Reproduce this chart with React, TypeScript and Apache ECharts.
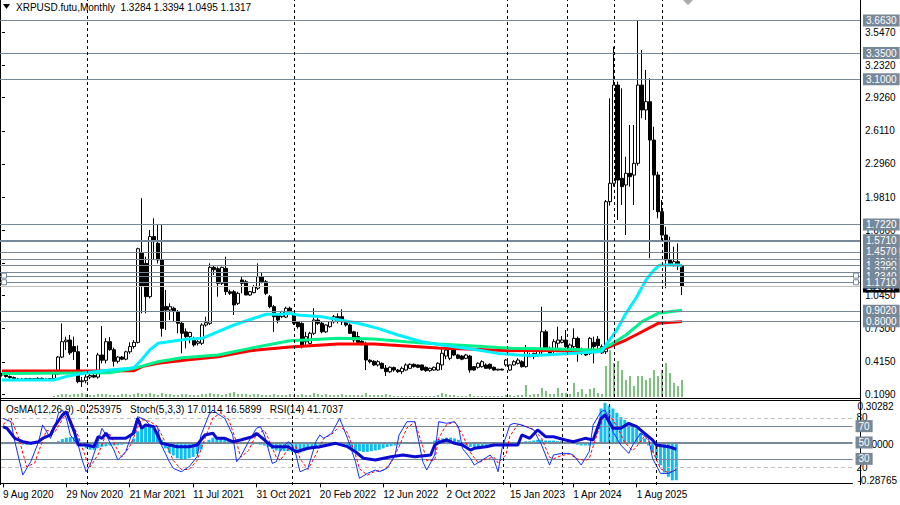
import React, { useEffect, useRef } from "react";
import * as echarts from "echarts";

const FONT = "'Liberation Sans', Arial, sans-serif";
const SYMBOL = "XRPUSD.futu";
const TIMEFRAME = "Monthly";

// slots on the time axis (bars + empty right shift)
const N_SLOTS = 215;
const X_TICK_LABELS = [
  "9 Aug 2020", "29 Nov 2020", "21 Mar 2021", "11 Jul 2021", "31 Oct 2021", "20 Feb 2022",
  "12 Jun 2022", "2 Oct 2022", "15 Jan 2023", "1 Apr 2024", "1 Aug 2025",
];
const LABEL_EVERY = 16;
// period separators (year boundaries), in bar index units
const SEPARATOR_BARS = [21.25, 73, 126.25, 141.25, 153, 165];

const OPEN = [
  0.290, 0.295, 0.275, 0.265, 0.250, 0.245, 0.250, 0.255, 0.248, 0.255,
  0.258, 0.245, 0.250, 0.255, 0.300, 0.460, 0.606, 0.622, 0.560, 0.511,
  0.226, 0.235, 0.270, 0.285, 0.270, 0.480, 0.430, 0.606, 0.530, 0.420,
  0.460, 0.440, 0.510, 0.560, 0.600, 1.450, 1.350, 1.034, 1.605, 1.541,
  1.383, 0.940, 0.907, 0.924, 0.892, 0.781, 0.700, 0.654, 0.622, 0.591,
  0.591, 0.765, 0.781, 1.313, 1.300, 1.161, 1.304, 1.080, 1.082, 0.971,
  1.193, 1.177, 1.050, 1.072, 1.114, 1.224, 1.177, 1.034, 0.939, 0.860,
  0.844, 0.840, 0.924, 0.860, 0.796, 0.780, 0.606, 0.590, 0.686, 0.812,
  0.781, 0.700, 0.749, 0.796, 0.844, 0.844, 0.800, 0.765, 0.700, 0.654,
  0.610, 0.575, 0.430, 0.420, 0.385, 0.400, 0.355, 0.320, 0.360, 0.337,
  0.321, 0.337, 0.353, 0.391, 0.385, 0.385, 0.363, 0.331, 0.337, 0.337,
  0.385, 0.470, 0.448, 0.527, 0.480, 0.470, 0.448, 0.470, 0.369, 0.363,
  0.369, 0.385, 0.391, 0.363, 0.337, 0.345, 0.385, 0.337, 0.385, 0.400,
  0.416, 0.369, 0.480, 0.464, 0.480, 0.511, 0.701, 0.543, 0.520, 0.591,
  0.600, 0.622, 0.543, 0.559, 0.638, 0.527, 0.496, 0.496, 0.600, 0.630,
  0.560, 0.511, 1.937, 2.112, 3.046, 2.159, 2.096, 2.207, 2.190, 2.302,
  3.046, 2.809, 2.888, 2.523, 2.191, 1.842, 1.620, 1.383, 1.335, 1.367,
  1.3284,
];
const HIGH = [
  0.310, 0.305, 0.285, 0.275, 0.262, 0.258, 0.262, 0.262, 0.260, 0.268,
  0.265, 0.255, 0.262, 0.310, 0.470, 0.780, 0.654, 0.670, 0.654, 0.570,
  0.270, 0.321, 0.300, 0.300, 0.500, 0.755, 0.640, 0.650, 0.550, 0.470,
  0.470, 0.520, 0.600, 0.620, 1.500, 1.970, 1.414, 1.668, 1.779, 1.716,
  1.716, 1.098, 0.971, 0.939, 0.907, 0.796, 0.733, 0.701, 0.654, 0.620,
  0.781, 0.844, 1.351, 1.335, 1.319, 1.320, 1.414, 1.100, 1.098, 1.082,
  1.224, 1.193, 1.090, 1.145, 1.351, 1.260, 1.193, 1.050, 0.955, 0.876,
  0.900, 0.939, 0.940, 0.876, 0.800, 0.790, 0.700, 0.700, 0.924, 0.844,
  0.800, 0.770, 0.800, 0.860, 0.876, 0.914, 0.810, 0.780, 0.710, 0.700,
  0.630, 0.606, 0.440, 0.430, 0.430, 0.410, 0.385, 0.370, 0.370, 0.345,
  0.369, 0.400, 0.400, 0.400, 0.390, 0.390, 0.370, 0.360, 0.370, 0.410,
  0.543, 0.560, 0.575, 0.540, 0.490, 0.480, 0.490, 0.480, 0.375, 0.410,
  0.430, 0.400, 0.400, 0.370, 0.345, 0.350, 0.440, 0.390, 0.430, 0.450,
  0.430, 0.575, 0.500, 0.500, 0.530, 0.939, 0.720, 0.560, 0.630, 0.749,
  0.660, 0.717, 0.590, 0.733, 0.654, 0.550, 0.520, 0.650, 0.654, 0.660,
  0.580, 1.953, 2.920, 3.410, 3.078, 3.015, 2.365, 2.666, 2.666, 3.664,
  3.379, 3.189, 3.110, 2.650, 2.222, 1.953, 1.699, 1.604, 1.509, 1.541,
  1.3394,
];
const LOW = [
  0.275, 0.265, 0.255, 0.240, 0.238, 0.235, 0.240, 0.243, 0.240, 0.248,
  0.238, 0.235, 0.242, 0.250, 0.290, 0.450, 0.527, 0.480, 0.432, 0.211,
  0.175, 0.211, 0.250, 0.260, 0.255, 0.400, 0.400, 0.520, 0.370, 0.400,
  0.430, 0.430, 0.490, 0.540, 0.590, 0.876, 0.876, 1.018, 1.383, 1.351,
  0.654, 0.717, 0.812, 0.796, 0.686, 0.496, 0.543, 0.591, 0.559, 0.570,
  0.575, 0.749, 0.765, 1.240, 1.034, 1.145, 1.050, 1.050, 0.860, 0.955,
  1.066, 1.050, 1.040, 1.066, 1.098, 1.160, 1.050, 0.924, 0.700, 0.780,
  0.830, 0.830, 0.880, 0.765, 0.730, 0.543, 0.575, 0.580, 0.670, 0.765,
  0.686, 0.690, 0.740, 0.780, 0.780, 0.765, 0.750, 0.680, 0.600, 0.580,
  0.570, 0.337, 0.400, 0.375, 0.370, 0.345, 0.280, 0.310, 0.320, 0.310,
  0.299, 0.330, 0.350, 0.360, 0.355, 0.330, 0.320, 0.320, 0.330, 0.330,
  0.337, 0.440, 0.430, 0.470, 0.440, 0.430, 0.440, 0.311, 0.330, 0.350,
  0.360, 0.350, 0.340, 0.330, 0.330, 0.335, 0.370, 0.330, 0.380, 0.390,
  0.360, 0.360, 0.460, 0.440, 0.460, 0.480, 0.530, 0.480, 0.500, 0.543,
  0.590, 0.527, 0.530, 0.527, 0.416, 0.480, 0.470, 0.480, 0.400, 0.540,
  0.490, 0.490, 1.900, 2.080, 1.763, 1.906, 1.620, 2.080, 1.906, 2.280,
  2.730, 2.714, 1.400, 1.858, 1.779, 1.573, 1.114, 1.335, 1.319, 1.288,
  1.0495,
];
const CLOSE = [
  0.295, 0.275, 0.265, 0.250, 0.245, 0.250, 0.255, 0.248, 0.255, 0.258,
  0.245, 0.250, 0.255, 0.300, 0.460, 0.606, 0.622, 0.500, 0.511, 0.226,
  0.235, 0.270, 0.285, 0.270, 0.480, 0.430, 0.606, 0.530, 0.420, 0.460,
  0.440, 0.510, 0.560, 0.600, 1.490, 1.130, 1.034, 1.605, 1.557, 1.383,
  0.733, 0.907, 0.939, 0.892, 0.781, 0.686, 0.654, 0.694, 0.575, 0.606,
  0.765, 0.787, 1.313, 1.290, 1.161, 1.313, 1.082, 1.066, 0.955, 1.066,
  1.161, 1.050, 1.082, 1.129, 1.224, 1.177, 1.066, 0.939, 0.844, 0.812,
  0.892, 0.924, 0.892, 0.781, 0.749, 0.559, 0.654, 0.686, 0.812, 0.781,
  0.700, 0.765, 0.796, 0.844, 0.820, 0.796, 0.765, 0.686, 0.622, 0.600,
  0.585, 0.432, 0.416, 0.385, 0.416, 0.353, 0.321, 0.363, 0.337, 0.321,
  0.353, 0.385, 0.391, 0.369, 0.363, 0.337, 0.331, 0.353, 0.363, 0.401,
  0.496, 0.527, 0.543, 0.480, 0.448, 0.440, 0.480, 0.337, 0.337, 0.401,
  0.416, 0.353, 0.353, 0.337, 0.345, 0.337, 0.432, 0.385, 0.416, 0.432,
  0.369, 0.543, 0.464, 0.496, 0.527, 0.701, 0.543, 0.500, 0.606, 0.622,
  0.622, 0.559, 0.575, 0.638, 0.543, 0.500, 0.480, 0.638, 0.559, 0.570,
  0.500, 1.937, 2.112, 3.046, 2.143, 2.080, 2.207, 2.175, 2.302, 3.046,
  2.809, 2.888, 2.523, 2.191, 1.842, 1.620, 1.383, 1.351, 1.367, 1.3284,
  1.1317,
];
// relative tick volume
const VOLUME = [
  0, 0, 0, 0, 0, 0, 0, 0, 0, 0,
  0, 0, 0, 1, 2, 3, 3, 2, 3, 3,
  4, 3, 2, 2, 3, 3, 3, 2, 2, 2,
  3, 3, 2, 3, 4, 3, 3, 4, 3, 2,
  4, 3, 3, 2, 2, 3, 3, 2, 2, 2,
  3, 3, 4, 3, 3, 2, 3, 4, 5, 3,
  3, 3, 2, 3, 3, 2, 2, 2, 3, 2,
  2, 2, 3, 2, 2, 3, 2, 2, 4, 3,
  2, 3, 2, 2, 2, 3, 2, 2, 2, 2,
  2, 4, 2, 2, 2, 2, 3, 2, 1, 1,
  1, 1, 1, 1, 1, 1, 1, 1, 1, 2,
  4, 3, 2, 2, 1, 1, 1, 3, 1, 1,
  1, 1, 1, 1, 1, 1, 2, 2, 1, 2,
  2, 12, 2, 3, 3, 9, 6, 3, 3, 9,
  4, 4, 3, 14, 5, 8, 3, 8, 9, 4,
  3, 31, 47, 34, 36, 27, 17, 21, 11, 21,
  21, 17, 19, 27, 21, 27, 34, 24, 14, 11,
  17,
];

// moving averages, read at sample bars: [bar, value]
const MA_CYAN = [
  [0, 0.242], [13, 0.242], [16, 0.274], [21, 0.311], [27, 0.337], [32, 0.353], [33, 0.36],
  [35, 0.44], [37, 0.53], [39, 0.591], [43, 0.613], [46, 0.629], [50, 0.638], [53, 0.686],
  [58, 0.765], [63, 0.829], [66, 0.867], [70, 0.867], [72, 0.876], [74, 0.86], [80, 0.844],
  [89, 0.781], [94, 0.733], [99, 0.67], [105, 0.606], [110, 0.575], [114, 0.553],
  [119, 0.527], [124, 0.495], [129, 0.48], [133, 0.475], [140, 0.49], [147, 0.505],
  [150, 0.515], [151, 0.575], [153.7, 0.717], [156, 0.876], [158.7, 1.034], [161, 1.193],
  [163, 1.288], [164.5, 1.335], [169.5, 1.335], [170, 1.319],
];
const MA_GREEN = [
  [0, 0.305], [27, 0.311], [33, 0.353], [39, 0.416], [45, 0.454], [54, 0.48], [62, 0.543],
  [72, 0.616], [84, 0.638], [93, 0.632], [101, 0.606], [109, 0.584], [118, 0.565],
  [127, 0.543], [135, 0.54], [149, 0.527], [152, 0.575], [156, 0.67], [160, 0.797],
  [164, 0.876], [170, 0.905],
];
const MA_RED = [
  [0, 0.328], [33, 0.33], [35, 0.369], [39, 0.401], [46, 0.432], [54, 0.464], [62, 0.521],
  [72, 0.555], [84, 0.584], [93, 0.584], [101, 0.565], [109, 0.546], [118, 0.534],
  [127, 0.521], [135, 0.524], [149, 0.511], [152, 0.559], [156, 0.622], [160, 0.701],
  [164, 0.781], [170, 0.797],
];

const PRICE_MIN = 0.0805;
const PRICE_MAX = 3.8543;
const PRICE_TICKS = [0.109, 0.415, 0.73, 1.045, 1.351, 1.666, 1.981, 2.296, 2.611, 2.926, 3.232, 3.547];
// horizontal line objects, in drawing order
const PRICE_LEVELS = [1.387, 1.329, 1.275, 1.234, 1.556, 1.571, 1.457, 1.171, 1.722, 3.663, 3.35, 3.1, 0.902, 0.8];
const SELECTED_LEVELS = [1.234, 1.171];

// indicator window
const OSMA = [
  0.012, 0.012, 0.010, 0.006, 0.002,
  -0.004, -0.006, -0.004, -0.002, 0, 0.002, 0.002, 0.004,
  0.010, 0.020, 0.035, 0.045, 0.050, 0.050, 0.040,
  -0.010, -0.030, -0.040, -0.040, -0.030,
  -0.020, -0.015, -0.010, -0.010, -0.008, -0.005, 0, 0.005,
  0.040, 0.090, 0.120, 0.120, 0.130, 0.120, 0.090, 0.030,
  -0.030, -0.060, -0.080, -0.100, -0.110, -0.110, -0.100, -0.090, -0.070, -0.040,
  0.010, 0.030, 0.045, 0.050, 0.050, 0.045, 0.030, 0.020,
  0.010, 0.010, 0.005, 0, -0.005, 0, -0.005, -0.010,
  -0.020, -0.035, -0.045, -0.050, -0.050, -0.050, -0.055, -0.060,
  -0.060, -0.050, -0.040, -0.030, -0.020, -0.010, -0.005, 0, 0.005, 0.005,
  0, -0.010, -0.020, -0.035, -0.045, -0.050, -0.055, -0.055, -0.050, -0.045, -0.040, -0.030, -0.020, -0.015, -0.010, -0.005,
  0, 0.005, 0.010, 0.015, 0.015, 0.010, 0.010, 0.015, 0.025, 0.035, 0.040, 0.045, 0.045, 0.040, 0.030, 0.010,
  -0.010, -0.020, -0.020, -0.020, -0.020, -0.020, -0.020, -0.015, -0.010, -0.005, 0, 0.005, 0.005, 0.005,
  0.015, 0.020, 0.020, 0.025, 0.030, 0.030, 0.025, 0.025, 0.025, 0.020, 0.020, 0.015, 0.015, 0.005, -0.005, -0.010, -0.010, -0.010, -0.005, 0,
  0.250, 0.290, 0.270, 0.250, 0.220, 0.190, 0.170, 0.150, 0.140, 0.110, 0.080, 0.040, -0.010, -0.060, -0.100, -0.150, -0.200, -0.230, -0.255, -0.254,
];
const OSMA_MIN = -0.28765;
const OSMA_MAX = 0.30282;

const STOCH_MAIN = [
  [0, 79.6], [2, 75.5], [3, 51], [5, 10.2], [7, 26.5], [9, 51], [10, 71.5], [12, 55], [13, 67.4],
  [14, 85.7], [15, 89.8], [16, 79.6], [17, 59.2], [19, 46.9], [20, 28.5], [21, 14.2], [22, 22.4],
  [24, 51], [25, 67.4], [26, 59.2], [28, 40.8], [29, 28.5], [31, 38.7], [33, 67.4], [34, 81.6],
  [36, 77.6], [37, 71.5], [39, 69.4], [40, 46.9], [42, 26.5], [43, 18.4], [45, 14.2], [47, 20.4],
  [49, 32.6], [50, 59.2], [52, 83.7], [53, 89.8], [54, 85.7], [56, 79.6], [58, 59.2], [59, 26.5],
  [60, 32.6], [62, 51], [64, 67.4], [65, 69.4], [66, 59.2], [68, 24.5], [69, 26.5], [70, 40],
  [72, 51], [73, 46.9], [74, 34.7], [75, 14.2], [77, 18.4], [79, 51], [80, 59.2], [81, 55.1],
  [83, 61.3], [85, 79.6], [86, 67.4], [87, 55.1], [89, 26.5], [90, 6.1], [92, 12.2], [94, 16.3],
  [95, 14.2], [97, 18.4], [99, 34.7], [100, 59.2], [102, 75.5], [104, 75.5], [105, 51], [106, 26.5],
  [107, 16.3], [109, 34.7], [110, 75.5], [112, 73.5], [114, 75.5], [115, 69.4], [116, 42.9],
  [118, 30.7], [119, 22.4], [121, 28.5], [123, 34.7], [124, 28.5], [125, 14.2], [126, 42.9],
  [128, 71.5], [129, 73.5], [131, 71.5], [133, 67.4], [134, 65.4], [136, 46.9], [138, 22.4],
  [139, 34.7], [141, 36.7], [143, 36.7], [144, 34.7], [146, 22.4], [148, 38.7], [149, 71.5],
  [151, 87.7], [152, 89.8], [153, 79.6], [154, 63.3], [156, 46.9], [158, 36.7], [159, 46.9],
  [161, 61.3], [163, 55.1], [164, 30.7], [166, 12.2], [168, 12.2], [169, 14.2], [170, 17.0],
];
const STOCH_SIGNAL = [
  [0, 72], [2, 80], [4, 55], [6, 20], [8, 25], [10, 52], [11, 65], [13, 62], [15, 78], [16, 86],
  [17, 78], [19, 58], [21, 30], [22, 20], [24, 35], [26, 60], [27, 60], [29, 40], [30, 32],
  [32, 45], [34, 68], [35, 78], [37, 76], [39, 70], [41, 50], [43, 28], [45, 17], [47, 17],
  [49, 28], [51, 55], [53, 80], [55, 86], [57, 78], [59, 50], [60, 32], [62, 40], [64, 60],
  [66, 65], [67, 55], [69, 32], [70, 28], [72, 42], [74, 45], [75, 30], [77, 17], [79, 35],
  [81, 55], [83, 60], [85, 70], [87, 62], [89, 35], [90, 18], [92, 10], [94, 15], [96, 16],
  [98, 25], [100, 45], [102, 68], [104, 75], [106, 45], [107, 28], [109, 28], [110, 55],
  [112, 72], [114, 75], [116, 60], [118, 38], [120, 25], [122, 30], [124, 32], [125, 25],
  [127, 35], [128, 58], [130, 72], [132, 70], [134, 66], [136, 55], [138, 32], [139, 30],
  [141, 34], [143, 36], [145, 30], [147, 28], [148, 30], [150, 60], [152, 85], [153, 85],
  [155, 70], [157, 50], [159, 40], [160, 45], [162, 58], [163, 52], [164, 40], [166, 18],
  [168, 13], [170, 16.6],
];
const RSI = [
  [0, 69.4], [1, 67.4], [3, 55.1], [5, 51], [7, 49], [9, 51], [10, 55.1], [12, 59.2], [13, 69.4],
  [15, 83.7], [16, 87.7], [17, 75.5], [18, 63.3], [19, 46.9], [21, 46.9], [23, 44.9], [24, 57.1],
  [25, 55.1], [26, 61.3], [27, 55.1], [31, 55.1], [33, 61.3], [34, 79.6], [35, 67.4], [36, 71.5],
  [38, 69.4], [39, 59.2], [40, 49], [42, 46.9], [44, 44.9], [47, 44.9], [49, 46.9], [51, 59.2],
  [53, 61.3], [54, 55.1], [56, 55.1], [58, 51], [60, 53.1], [63, 57.1], [64, 61.3], [66, 53.1],
  [68, 44.9], [70, 44.9], [72, 44.9], [74, 38.7], [77, 42.9], [80, 44.9], [82, 46.9], [84, 49],
  [87, 44.9], [89, 38.7], [91, 30.7], [94, 28.6], [98, 32.6], [101, 34.7], [104, 32.6],
  [108, 34.7], [109, 46.9], [110, 50], [112, 53.1], [114, 49], [116, 46.9], [118, 40.8],
  [119, 42.9], [122, 44.9], [124, 46.9], [130, 46.9], [131, 59.2], [133, 55.1], [135, 65.4],
  [137, 57.1], [139, 57.1], [142, 53.1], [144, 51], [147, 55.1], [149, 53.1], [151, 79.6],
  [152, 83.7], [154, 67.4], [156, 67.4], [158, 73.5], [160, 69.4], [162, 61.3], [164, 53.1],
  [165, 46.9], [168, 44.9], [170, 41.7],
];
const STOCH_MIN = -2;
const STOCH_MAX = 100.8;
const LEVELS_DASHED = [80, 20];
const LEVELS_SOLID = [70, 30];
const LEVEL_MID = 50;
const READOUT_OSMA = "-0.253975";
const READOUT_STOCH = ["17.0114", "16.5899"];
const READOUT_RSI = "41.7037";

const LEVEL_GRAY = "#778899";

function buildOption() {
  const last = CLOSE.length - 1;
  const categories = Array.from({ length: N_SLOTS }, (_, i) => String(i));
  const candleData = OPEN.map((o, i) => [o, CLOSE[i], LOW[i], HIGH[i]]);
  const showTick = (idx: number) => idx % LABEL_EVERY === 0 && idx / LABEL_EVERY < X_TICK_LABELS.length;

  const boxLabel = (text: string, bg: string) => ({
    show: true,
    position: "end",
    distance: 3,
    formatter: text,
    color: "#ffffff",
    backgroundColor: bg,
    padding: [1, 3, 1, 3],
    fontSize: 10,
    lineHeight: 10,
    fontFamily: FONT,
  });

  const priceLevelLines = [
    {
      yAxis: CLOSE[last],
      lineStyle: { color: "#c0c0c0", width: 1, type: "solid" },
      label: boxLabel(CLOSE[last].toFixed(4), "#000000"),
    },
    ...PRICE_LEVELS.map((v) => ({
      yAxis: v,
      lineStyle: { color: LEVEL_GRAY, width: 1, type: "solid" },
      label: boxLabel(v.toFixed(4), LEVEL_GRAY),
    })),
  ];

  const separators = (xAxisIndex: number, yAxisIndex: number) => ({
    type: "line",
    xAxisIndex,
    yAxisIndex,
    data: [],
    silent: true,
    z: 4,
    markLine: {
      silent: true,
      symbol: ["none", "none"],
      label: { show: false },
      lineStyle: { color: "#000", width: 1, type: [3, 3] },
      data: SEPARATOR_BARS.map((b) => ({ xAxis: b })),
    },
  });

  const plainLabel = (text: string) => ({
    show: true,
    position: "end",
    distance: 4,
    formatter: text,
    color: "#000",
    fontSize: 10,
    fontFamily: FONT,
  });

  const stochLevelLines = [
    ...LEVELS_DASHED.map((v) => ({
      yAxis: v,
      lineStyle: { color: "#c0c0c0", width: 1, type: [4, 3] },
      label: plainLabel(String(v)),
    })),
    ...LEVELS_SOLID.map((v) => ({
      yAxis: v,
      lineStyle: { color: LEVEL_GRAY, width: 1, type: "solid" },
      label: boxLabel(String(v), LEVEL_GRAY),
    })),
    {
      yAxis: LEVEL_MID,
      lineStyle: { color: LEVEL_GRAY, width: 2, type: "solid" },
      label: boxLabel(String(LEVEL_MID), LEVEL_GRAY),
    },
  ];

  const maLine = (data: number[][], color: string) => ({
    type: "line",
    xAxisIndex: 1,
    yAxisIndex: 0,
    data,
    symbol: "none",
    silent: true,
    z: 3,
    lineStyle: { color, width: 3 },
  });

  return {
    animation: false,
    backgroundColor: "#ffffff",
    textStyle: { fontFamily: FONT },
    title: [
      {
        text: `${SYMBOL},${TIMEFRAME}  ${OPEN[last].toFixed(4)} ${HIGH[last].toFixed(4)} ${LOW[last].toFixed(4)} ${CLOSE[last].toFixed(4)}`,
        left: 16,
        top: 2,
        padding: 0,
        textStyle: { fontSize: 10, fontWeight: "normal", color: "#000", fontFamily: FONT },
      },
      {
        text: `OsMA(12,26,9) ${READOUT_OSMA}   Stoch(5,3,3) ${READOUT_STOCH[0]} ${READOUT_STOCH[1]}   RSI(14) ${READOUT_RSI}`,
        left: 6,
        top: 404,
        padding: 0,
        textStyle: { fontSize: 10, fontWeight: "normal", color: "#000", fontFamily: FONT },
      },
    ],
    grid: [
      { left: 0, right: 40, top: 0, height: 397 },
      { left: 0, right: 40, top: 401, height: 84 },
    ],
    xAxis: [
      {
        type: "category",
        gridIndex: 0,
        data: categories,
        boundaryGap: true,
        axisLine: { show: false },
        axisTick: { show: false },
        axisLabel: { show: false },
        splitLine: { show: false },
      },
      { type: "value", gridIndex: 0, min: -0.5, max: N_SLOTS - 0.5, show: false },
      {
        type: "category",
        gridIndex: 1,
        data: categories,
        boundaryGap: true,
        axisLine: { show: true, lineStyle: { color: "#000", width: 1 } },
        axisTick: {
          show: true,
          alignWithLabel: true,
          interval: (idx: number) => showTick(idx),
          length: 4,
          lineStyle: { color: "#000" },
        },
        axisLabel: {
          show: true,
          interval: (idx: number) => showTick(idx),
          formatter: (_v: string, idx: number) => X_TICK_LABELS[idx / LABEL_EVERY] ?? "",
          align: "left",
          margin: 4,
          fontSize: 10,
          color: "#000",
          fontFamily: FONT,
        },
        splitLine: { show: false },
      },
      { type: "value", gridIndex: 1, min: -0.5, max: N_SLOTS - 0.5, show: false },
    ],
    yAxis: [
      {
        type: "value",
        gridIndex: 0,
        position: "right",
        min: PRICE_MIN,
        max: PRICE_MAX,
        axisLine: { show: false },
        axisTick: { show: true, customValues: PRICE_TICKS, length: 3, lineStyle: { color: "#000" } },
        axisLabel: {
          show: true,
          customValues: PRICE_TICKS,
          formatter: (v: number) => v.toFixed(4),
          margin: 5,
          fontSize: 10,
          color: "#000",
          fontFamily: FONT,
        },
        splitLine: { show: false },
      },
      { type: "value", gridIndex: 0, min: 0, max: 397, show: false },
      { type: "value", gridIndex: 1, min: STOCH_MIN, max: STOCH_MAX, show: false },
      {
        type: "value",
        gridIndex: 1,
        position: "right",
        min: OSMA_MIN,
        max: OSMA_MAX,
        axisLine: { show: false },
        axisTick: { show: false },
        axisLabel: {
          show: true,
          customValues: [OSMA_MIN, 0, OSMA_MAX],
          formatter: (v: number) => v.toFixed(5),
          verticalAlignMaxLabel: "top",
          verticalAlignMinLabel: "bottom",
          margin: 5,
          fontSize: 10,
          color: "#000",
          fontFamily: FONT,
        },
        splitLine: { show: false },
      },
    ],
    series: [
      {
        type: "bar",
        xAxisIndex: 0,
        yAxisIndex: 1,
        data: VOLUME,
        barWidth: 1,
        silent: true,
        z: 1,
        itemStyle: { color: "#008000" },
      },
      {
        type: "candlestick",
        xAxisIndex: 0,
        yAxisIndex: 0,
        data: candleData,
        barWidth: 3,
        silent: true,
        z: 2,
        itemStyle: {
          color: "#ffffff",
          color0: "#000000",
          borderColor: "#000000",
          borderColor0: "#000000",
          borderWidth: 1,
        },
      },
      maLine(MA_RED, "#ff0000"),
      maLine(MA_GREEN, "#00f08c"),
      maLine(MA_CYAN, "#00f0ff"),
      {
        type: "line",
        xAxisIndex: 1,
        yAxisIndex: 0,
        data: [],
        silent: true,
        z: 6,
        markLine: {
          silent: true,
          symbol: ["none", "none"],
          data: priceLevelLines,
        },
        markPoint: {
          silent: true,
          symbol: "rect",
          symbolSize: 5,
          label: { show: false },
          itemStyle: { color: "#ffffff", borderColor: LEVEL_GRAY, borderWidth: 1 },
          data: SELECTED_LEVELS.flatMap((v) => [{ coord: [0.5, v] }, { coord: [N_SLOTS - 1.5, v] }]),
        },
      },
      separators(1, 0),
      {
        type: "bar",
        xAxisIndex: 2,
        yAxisIndex: 3,
        data: OSMA,
        barWidth: 3,
        silent: true,
        z: 1,
        itemStyle: { color: "#10bdf0" },
      },
      {
        type: "line",
        xAxisIndex: 3,
        yAxisIndex: 2,
        data: [],
        silent: true,
        z: 6,
        markLine: {
          silent: true,
          symbol: ["none", "none"],
          data: stochLevelLines,
        },
      },
      separators(3, 2),
      {
        type: "line",
        xAxisIndex: 3,
        yAxisIndex: 2,
        data: STOCH_SIGNAL,
        symbol: "none",
        silent: true,
        z: 7,
        lineStyle: { color: "#ff0000", width: 1, type: [3, 2] },
      },
      {
        type: "line",
        xAxisIndex: 3,
        yAxisIndex: 2,
        data: STOCH_MAIN,
        symbol: "none",
        silent: true,
        z: 8,
        lineStyle: { color: "#1030ff", width: 1 },
      },
      {
        type: "line",
        xAxisIndex: 3,
        yAxisIndex: 2,
        data: RSI,
        symbol: "none",
        silent: true,
        z: 9,
        lineStyle: { color: "#0a0ad0", width: 3 },
      },
    ],
    graphic: [
      { type: "polygon", silent: true, shape: { points: [[3, 4], [10, 4], [6.5, 9]] }, style: { fill: "#000" } },
      { type: "polygon", silent: true, shape: { points: [[683, 0], [693, 0], [688, 5]] }, style: { fill: "#a9a9a9" } },
      { type: "line", silent: true, shape: { x1: 0.5, y1: 0, x2: 0.5, y2: 485 }, style: { stroke: "#000", lineWidth: 1 } },
      { type: "line", silent: true, shape: { x1: 860.5, y1: 0, x2: 860.5, y2: 485 }, style: { stroke: "#000", lineWidth: 1 } },
      { type: "line", silent: true, shape: { x1: 0, y1: 398.5, x2: 861, y2: 398.5 }, style: { stroke: "#000", lineWidth: 1 } },
      { type: "line", silent: true, shape: { x1: 0, y1: 400.5, x2: 861, y2: 400.5 }, style: { stroke: "#000", lineWidth: 1 } },
    ],
  };
}

export default function App() {
  const ref = useRef<HTMLDivElement>(null);
  useEffect(() => {
    if (!ref.current) return;
    const chart = echarts.init(ref.current, null, { renderer: "svg" });
    chart.setOption(buildOption() as any);
    return () => chart.dispose();
  }, []);
  return (
    <div
      ref={ref}
      style={{ position: "absolute", left: 0, top: 0, width: 900, height: 505, background: "#fff" }}
    />
  );
}
